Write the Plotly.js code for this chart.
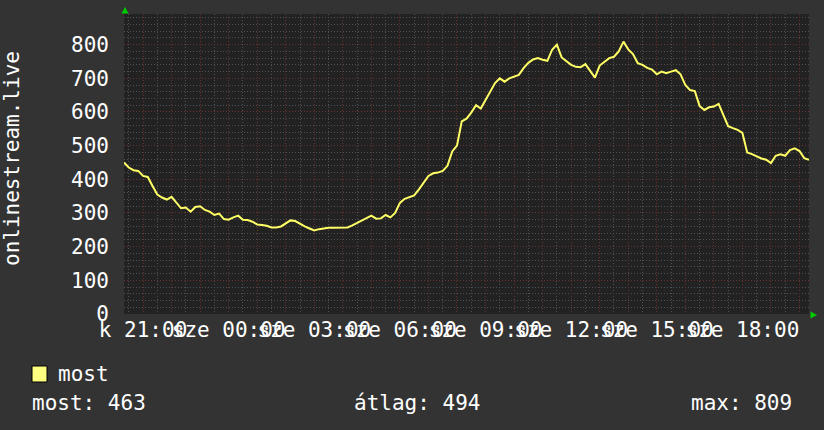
<!DOCTYPE html>
<html>
<head>
<meta charset="utf-8">
<script src="https://cdn.plot.ly/plotly-3.0.1.min.js"></script>
<style>
  html, body { margin: 0; padding: 0; background: #333333; }
  #chart { width: 824px; height: 430px; }
</style>
</head>
<body>
<div id="chart"></div>
<script>
// ---- data ----
const seriesName = 'most';
const axisTitle = 'onlinestream.live';
const startTime = [2024, 0, 9, 20, 20];   // k (Tuesday) 20:20
const stepMinutes = 10;
const listeners = [
  450, 435, 427, 425, 410, 407, 380, 355, 346, 340,
  348, 330, 314, 316, 304, 318, 320, 309, 304, 294,
  298, 282, 280, 287, 292, 280, 279, 274, 266, 264,
  262, 257, 257, 260, 270, 278, 276, 267, 260, 254,
  248, 252, 255, 256, 256, 256, 256, 257, 263, 270,
  276, 285, 292, 283, 284, 294, 287, 300, 330, 342,
  347, 352, 370, 390, 410, 418, 420, 425, 440, 483,
  500, 572, 580, 598, 620, 610, 634, 660, 686, 700,
  690, 700, 704, 710, 730, 746, 756, 760, 755, 752,
  785, 800, 762, 750, 740, 734, 733, 742, 720, 702,
  738, 748, 760, 764, 780, 809, 786, 772, 745, 740,
  731, 726, 712, 720, 715, 720, 724, 712, 680, 665,
  662, 618, 606, 614, 616, 624, 590, 558, 552, 547,
  538, 480, 475, 468, 462, 458, 448, 470, 474, 470,
  487, 492, 484, 463, 458
];
const tickLabels = ['k 21:00', 'sze 00:00', 'sze 03:00', 'sze 06:00',
                    'sze 09:00', 'sze 12:00', 'sze 15:00', 'sze 18:00'];
const firstHourTick = [2024, 0, 9, 21, 0];
const statNames = ['most', 'átlag', 'max'];
const statValues = [463, 494, 809];
const yMax = 891;

// ---- helpers ----
function pad(n) { return (n < 10 ? '0' : '') + n; }
function fmt(d) {
  return d.getFullYear() + '-' + pad(d.getMonth() + 1) + '-' + pad(d.getDate()) +
         ' ' + pad(d.getHours()) + ':' + pad(d.getMinutes()) + ':00';
}
const t0 = new Date(startTime[0], startTime[1], startTime[2], startTime[3], startTime[4]);
const times = listeners.map((_, i) => fmt(new Date(t0.getTime() + i * stepMinutes * 60000)));
const tEnd = fmt(new Date(t0.getTime() + 24 * 3600000));

const h0 = new Date(firstHourTick[0], firstHourTick[1], firstHourTick[2], firstHourTick[3], firstHourTick[4]);
const hourVals = [], hourText = [];
for (let k = 0; k < 24; k++) {
  hourVals.push(fmt(new Date(h0.getTime() + k * 3600000)));
  hourText.push(k % 3 === 0 ? tickLabels[k / 3] : '');
}

// ---- layout geometry (pixels) ----
const W = 824, H = 430;
const L = 124, R = 15, T = 14, B = 116;
const PW = W - L - R, PH = H - T - B;
const px = x => (x - L) / PW;
const py = y => (H - B - y) / PH;

const FONT = 'DejaVu Sans Mono';
const MAJ = '#6a3030';
const MIN = '#505050';
const DASH = '1px,2px';

const trace = {
  x: times, y: listeners, type: 'scatter', mode: 'lines',
  line: { color: '#ffff66', width: 2, shape: 'linear' },
  name: seriesName, hoverinfo: 'skip'
};

const annotations = [
  { text: axisTitle, xref: 'paper', yref: 'paper', x: px(12), y: py(159),
    textangle: -90, showarrow: false, xanchor: 'center', yanchor: 'middle',
    font: { family: FONT, size: 21, color: '#ffffff' } },
  { text: seriesName, xref: 'paper', yref: 'paper', x: px(56), y: py(374),
    showarrow: false, xanchor: 'left', yanchor: 'middle',
    font: { family: FONT, size: 21, color: '#ffffff' } },
  { text: statNames[0] + ': ' + statValues[0], xref: 'paper', yref: 'paper', x: px(30), y: py(403),
    showarrow: false, xanchor: 'left', yanchor: 'middle',
    font: { family: FONT, size: 21, color: '#ffffff' } },
  { text: statNames[1] + ': ' + statValues[1], xref: 'paper', yref: 'paper', x: px(352), y: py(403),
    showarrow: false, xanchor: 'left', yanchor: 'middle',
    font: { family: FONT, size: 21, color: '#ffffff' } },
  { text: statNames[2] + ': ' + statValues[2], xref: 'paper', yref: 'paper', x: px(794), y: py(403),
    showarrow: false, xanchor: 'right', yanchor: 'middle',
    font: { family: FONT, size: 21, color: '#ffffff' } }
];

const shapes = [
  { type: 'rect', xref: 'paper', yref: 'paper', x0: px(32), x1: px(47), y0: py(366), y1: py(382),
    fillcolor: '#ffff80', line: { color: '#000000', width: 1 } },
  { type: 'path', xref: 'paper', yref: 'paper',
    path: 'M ' + px(121.5) + ',' + py(13.5) + ' L ' + px(128.5) + ',' + py(13.5) + ' L ' + px(125) + ',' + py(7) + ' Z',
    fillcolor: '#00cc00', line: { width: 0 } },
  { type: 'path', xref: 'paper', yref: 'paper',
    path: 'M ' + px(810.5) + ',' + py(311.5) + ' L ' + px(810.5) + ',' + py(318.5) + ' L ' + px(817) + ',' + py(315) + ' Z',
    fillcolor: '#00cc00', line: { width: 0 } }
];

const layout = {
  width: W, height: H,
  margin: { l: L, r: R, t: T, b: B, pad: 0 },
  paper_bgcolor: '#333333', plot_bgcolor: '#222222',
  showlegend: false,
  font: { family: FONT, size: 21, color: '#ffffff' },
  xaxis: {
    type: 'date', range: [fmt(t0), tEnd],
    tickmode: 'array', tickvals: hourVals, ticktext: hourText,
    showgrid: true, gridcolor: MAJ, griddash: DASH, gridwidth: 1,
    minor: { tickmode: 'linear', tick0: fmt(new Date(t0.getTime() + 10 * 60000)), dtick: 1800000,
             showgrid: true, gridcolor: MIN, griddash: DASH, gridwidth: 1 },
    ticks: '', showline: false, zeroline: false, fixedrange: true,
    tickfont: { family: FONT, size: 21, color: '#ffffff' },
    ticklabelstandoff: 1, tickangle: 0, automargin: false
  },
  yaxis: {
    range: [0, yMax], tick0: 0, dtick: 100,
    showgrid: true, gridcolor: MAJ, griddash: DASH, gridwidth: 1,
    minor: { tick0: 0, dtick: 20, showgrid: true, gridcolor: MIN, griddash: DASH, gridwidth: 1 },
    ticks: '', showline: false, zeroline: false, fixedrange: true,
    tickfont: { family: FONT, size: 21, color: '#ffffff' },
    ticklabelstandoff: 14, automargin: false
  },
  annotations: annotations,
  shapes: shapes
};

Plotly.newPlot('chart', [trace], layout, { staticPlot: true, displayModeBar: false });
</script>
</body>
</html>
